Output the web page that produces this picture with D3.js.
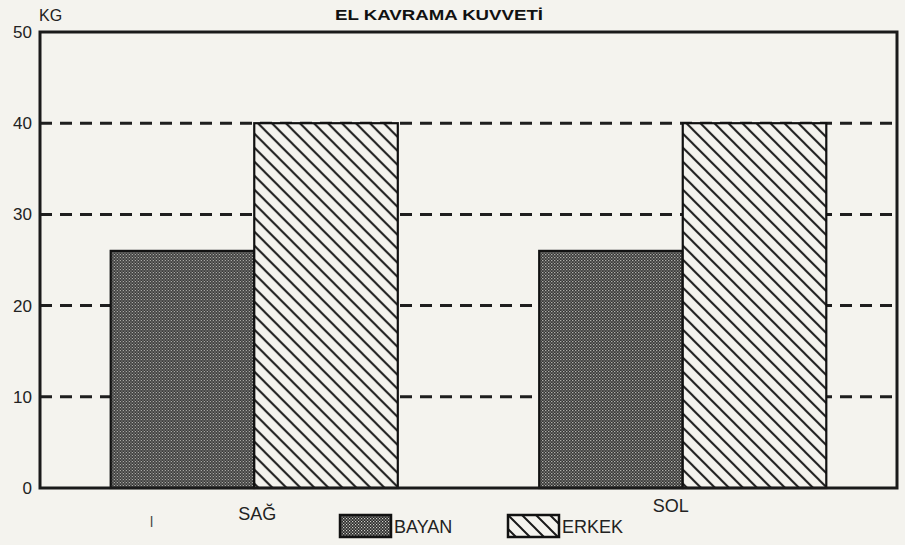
<!DOCTYPE html>
<html lang="en">
<head>
<meta charset="utf-8">
<title>El Kavrama Kuvveti</title>
<script src="https://cdnjs.cloudflare.com/ajax/libs/d3/7.8.5/d3.min.js"></script>
<style>
    body { margin: 0; background: #f4f3ee; }
    svg { display: block; font-family: "Liberation Sans", Arial, sans-serif; }
</style>
</head>
<body>
<svg id="chart" width="905" height="545"></svg>
<script>
    // data
    var sides = ["SAĞ", "SOL"];
    var groups = ["BAYAN", "ERKEK"];
    var bayan = [26, 26];
    var erkek = [40, 40];
    var yTicks = [0, 10, 20, 30, 40, 50];
    var gridTicks = [10, 20, 30, 40];

    var rows = sides.map((s, i) => ({ side: s, BAYAN: bayan[i], ERKEK: erkek[i] }));

    var margin = { top: 32, right: 8, bottom: 57, left: 40 },
        width = 905 - margin.left - margin.right,
        height = 545 - margin.top - margin.bottom;

    var svg = d3.select("#chart");
    var defs = svg.append("defs");

    // dark dotted screen
    var dots = defs.append("pattern")
        .attr("id", "dots").attr("patternUnits", "userSpaceOnUse")
        .attr("width", 3).attr("height", 3);
    dots.append("rect").attr("width", 3).attr("height", 3).attr("fill", "#2a2a2a");
    dots.append("rect").attr("x", 0).attr("y", 0).attr("width", 1.2).attr("height", 1.2).attr("fill", "#d0d0ca");
    dots.append("rect").attr("x", 1.5).attr("y", 1.5).attr("width", 1.2).attr("height", 1.2).attr("fill", "#bfbfb9");

    // diagonal hatch (\\\)
    var hatch = defs.append("pattern")
        .attr("id", "hatch").attr("patternUnits", "userSpaceOnUse")
        .attr("width", 14).attr("height", 14);
    hatch.append("rect").attr("width", 14).attr("height", 14).attr("fill", "#f4f3ee");
    hatch.append("path").attr("d", "M-3,-3 L17,17 M-3,11 L3,17 M11,-3 L17,3")
        .attr("stroke", "#1a1a1a").attr("stroke-width", 2);

    var fills = { BAYAN: "url(#dots)", ERKEK: "url(#hatch)" };

    var g = svg.append("g").attr("transform", `translate(${margin.left},${margin.top})`);

    var x0 = d3.scaleBand().domain(sides).range([0, width])
        .paddingInner(0.33).paddingOuter(0.165);
    var x1 = d3.scaleBand().domain(groups).range([0, x0.bandwidth()]);
    var y = d3.scaleLinear().domain([0, 50]).range([height, 0]);

    // dashed grid
    g.selectAll("line.grid")
        .data(gridTicks)
        .enter()
        .append("line")
        .attr("class", "grid")
        .attr("x1", 0).attr("x2", width)
        .attr("y1", d => y(d)).attr("y2", d => y(d))
        .attr("stroke", "#1e1e1e")
        .attr("stroke-width", 3)
        .attr("stroke-dasharray", "12,8");

    // bars
    var side = g.selectAll("g.side")
        .data(rows)
        .enter()
        .append("g")
        .attr("class", "side")
        .attr("transform", d => `translate(${x0(d.side)},0)`);

    side.selectAll("rect")
        .data(d => groups.map(k => ({ key: k, value: d[k] })))
        .enter()
        .append("rect")
        .attr("x", d => x1(d.key))
        .attr("y", d => y(d.value))
        .attr("width", x1.bandwidth())
        .attr("height", d => height - y(d.value))
        .attr("fill", d => fills[d.key])
        .attr("stroke", "#111")
        .attr("stroke-width", 2.2);

    // frame
    g.append("rect")
        .attr("width", width).attr("height", height)
        .attr("fill", "none")
        .attr("stroke", "#1a1a1a")
        .attr("stroke-width", 3);

    // y labels
    var yAxis = d3.axisLeft(y).tickValues(yTicks).tickSize(0).tickPadding(8);
    g.append("g").call(yAxis)
        .call(a => a.select(".domain").remove())
        .selectAll("text")
        .attr("font-size", 17)
        .attr("font-family", "'Liberation Sans', Arial, sans-serif")
        .attr("fill", "#222");

    // x labels (printed slightly out of line in the original)
    var xOffsets = [32, 24];
    g.selectAll("text.cat")
        .data(sides)
        .enter()
        .append("text")
        .attr("class", "cat")
        .attr("x", d => x0(d) + x0.bandwidth() / 2 + (d === "SOL" ? -12 : 3))
        .attr("y", (d, i) => height + xOffsets[i])
        .attr("text-anchor", "middle")
        .attr("font-size", 18)
        .attr("fill", "#222")
        .text(d => d);

    // stray mark below the axis
    svg.append("text")
        .attr("x", 150).attr("y", 527)
        .attr("font-size", 14)
        .attr("fill", "#444")
        .text("l");

    // unit and title
    svg.append("text")
        .attr("x", 39).attr("y", 21)
        .attr("font-size", 16)
        .attr("fill", "#222")
        .text("KG");

    svg.append("text")
        .attr("x", 335).attr("y", 20)
        .attr("font-size", 14)
        .attr("font-weight", "bold")
        .attr("fill", "#111")
        .attr("textLength", 208)
        .attr("lengthAdjust", "spacingAndGlyphs")
        .text("EL KAVRAMA KUVVETİ");

    // legend
    var legendX = [340, 508];
    var legend = svg.selectAll("g.legend")
        .data(groups)
        .enter()
        .append("g")
        .attr("class", "legend")
        .attr("transform", (d, i) => `translate(${legendX[i]},515)`);

    legend.append("rect")
        .attr("width", 51).attr("height", 22)
        .attr("fill", d => fills[d])
        .attr("stroke", "#111")
        .attr("stroke-width", 2.5);

    legend.append("text")
        .attr("x", 54).attr("y", 18)
        .attr("font-size", 18)
        .attr("fill", "#222")
        .text(d => d);
</script>
</body>
</html>
